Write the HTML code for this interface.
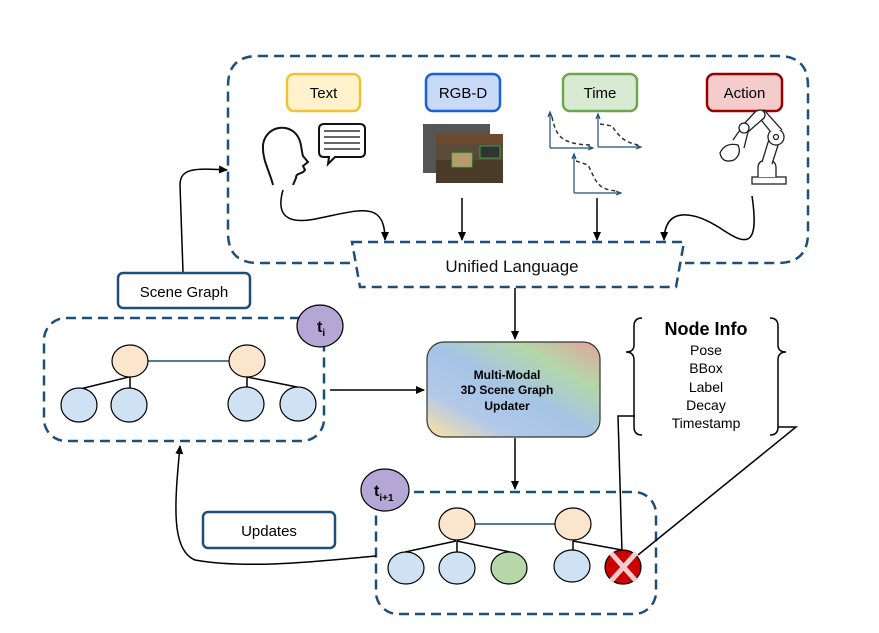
<!DOCTYPE html>
<html><head><meta charset="utf-8"><style>
html,body{margin:0;padding:0;background:#fff;}
svg{display:block;}
text{font-family:"Liberation Sans",Arial,sans-serif;}
</style></head><body>
<svg width="879" height="633" viewBox="0 0 879 633" xmlns="http://www.w3.org/2000/svg">
<defs>
<marker id="ah" markerWidth="10" markerHeight="10" refX="8" refY="5" orient="auto" markerUnits="userSpaceOnUse">
<path d="M0,1 L9,5 L0,9 Z" fill="#000"/></marker>
<linearGradient id="g" x1="0" y1="1" x2="1" y2="0">
<stop offset="0" stop-color="#fbe3a0"/>
<stop offset="0.25" stop-color="#b3c8e8"/>
<stop offset="0.5" stop-color="#a5c4e6"/>
<stop offset="0.75" stop-color="#b4d7a8"/>
<stop offset="1" stop-color="#e3a39b"/>
</linearGradient>
</defs>
<g fill="none" stroke="#1f4e79" stroke-width="2.5" stroke-dasharray="10,6">
<path d="M258,56 H778 Q808,56 808,86 V233 Q808,263 778,263 H685 M350,263 H258 Q228,263 228,233 V86 Q228,56 258,56"/>
<path d="M352,242 L684,242 L676,287 L360,287 Z"/>
<rect x="44" y="318" width="280" height="123" rx="22"/>
<rect x="376" y="492" width="280" height="122" rx="22"/>
</g>
<text x="512" y="272" font-size="17" text-anchor="middle" fill="#111">Unified Language</text>

<rect x="287" y="74" width="73" height="37" rx="7" fill="#fff2cc" stroke="#f1c232" stroke-width="2.5"/>
<text x="323.5" y="98" font-size="15" text-anchor="middle">Text</text>
<rect x="426" y="74" width="74" height="37" rx="7" fill="#c9daf8" stroke="#1c5fd8" stroke-width="2.5"/>
<text x="463" y="98" font-size="15" text-anchor="middle">RGB-D</text>
<rect x="563" y="74" width="74" height="37" rx="7" fill="#d9ead3" stroke="#6aa84f" stroke-width="2.5"/>
<text x="600" y="98" font-size="15" text-anchor="middle">Time</text>
<rect x="707" y="74" width="75" height="37" rx="7" fill="#f4cccc" stroke="#990000" stroke-width="2.5"/>
<text x="744.5" y="98" font-size="15" text-anchor="middle">Action</text>

<!-- head -->
<path d="M273,185 C270,172 262,160 263,145 C265,128 285,122 296,134 C302,141 301,150 303,156 L308,162 L303,166 L305,170 C302,175 296,172 296,178 L293,185" fill="none" stroke="#111" stroke-width="2"/>
<!-- speech bubble -->
<path d="M324,124 H360 Q365,124 365,129 V152 Q365,157 360,157 H335 L328,164 L329,157 H324 Q319,157 319,152 V129 Q319,124 324,124 Z" fill="#fff" stroke="#111" stroke-width="2"/>
<g stroke="#333" stroke-width="1.5"><line x1="324" y1="131" x2="360" y2="131"/><line x1="324" y1="137" x2="360" y2="137"/><line x1="324" y1="143" x2="360" y2="143"/><line x1="324" y1="149" x2="360" y2="149"/></g>
<!-- photo -->
<rect x="423" y="124" width="67" height="49" fill="#555"/>
<rect x="436" y="134" width="67" height="49" fill="#5a4a3a"/>
<rect x="436" y="134" width="67" height="10" fill="#6b4a30"/>
<rect x="436" y="160" width="67" height="23" fill="#4a3a28"/>
<rect x="452" y="153" width="20" height="14" fill="#b89a70" stroke="#3c3" stroke-width="0.7"/>
<rect x="480" y="146" width="20" height="12" fill="#333" stroke="#3c3" stroke-width="0.7"/>
<!-- graphs -->
<g stroke="#1f4e79" stroke-width="1.2" fill="none">
<path d="M550,148 V113 M548,117 L550,112 L552,117"/><path d="M550,148 H592 M588,146 L593,148 L588,150"/>
<path d="M598,147 V115 M596,119 L598,114 L600,119"/><path d="M598,147 H640 M636,145 L641,147 L636,149"/>
<path d="M574,193 V155 M572,159 L574,154 L576,159"/><path d="M574,193 H620 M616,191 L621,193 L616,195"/>
</g>
<g stroke="#333" stroke-width="1.5" fill="none" stroke-dasharray="4,3">
<path d="M552,117 C556,135 560,144 590,145"/>
<path d="M600,124 L612,126 C620,138 625,142 638,145"/>
<path d="M576,161 L588,165 C596,180 596,190 618,191"/>
</g>
<!-- robot arm -->
<g stroke="#222" stroke-width="1.3" fill="#fff">
<rect x="752" y="177" width="34" height="7"/>
<path d="M758,177 V168 Q758,160 767,160 Q776,160 776,168 V177"/>
<path d="M762,162 L770,136 L780,139 L772,164"/>
<circle cx="776" cy="137" r="8"/>
<circle cx="776" cy="137" r="2.5"/>
<path d="M770,131 L758,116 L764,110 L782,130"/>
<circle cx="760" cy="115" r="5"/>
<path d="M756,111 L742,126 L748,132 L764,118"/>
<circle cx="744" cy="128" r="5"/>
<path d="M738,145 Q725,142 720,153 Q722,164 734,160 Q742,154 738,145 Z"/>
<path d="M748,132 L744,148 M740,130 L733,140"/>
</g>

<!-- top arrows -->
<g stroke="#000" stroke-width="1.5" fill="none" marker-end="url(#ah)">
<path d="M283,190 C275,218 290,225 320,218 C360,210 385,200 385,240"/>
<line x1="462" y1="198" x2="462" y2="240"/>
<line x1="597" y1="198" x2="597" y2="240"/>
<path d="M752,196 C760,250 745,245 720,228 C695,212 665,205 664,240"/>
<path d="M183,272 L180,185 C180,168 195,168 227,170"/>
<line x1="515" y1="288" x2="515" y2="339"/>
<line x1="330" y1="390" x2="424" y2="390"/>
<line x1="515" y1="438" x2="515" y2="489"/>
<path d="M376,556 C330,560 250,570 195,560 C170,550 175,500 180,446"/>
</g>

<rect x="118" y="273" width="132" height="35" rx="5" fill="#fff" stroke="#1f4e79" stroke-width="2.5"/>
<text x="184" y="297" font-size="15" text-anchor="middle">Scene Graph</text>
<rect x="203" y="512" width="132" height="36" rx="5" fill="#fff" stroke="#1f4e79" stroke-width="2.5"/>
<text x="269" y="536" font-size="15" text-anchor="middle">Updates</text>

<!-- left graph -->
<g stroke="#000" stroke-width="1.5"><line x1="129" y1="377" x2="80" y2="389"/><line x1="130" y1="377" x2="130" y2="389"/><line x1="247" y1="377" x2="247" y2="389"/><line x1="247" y1="377" x2="297" y2="387"/></g>
<line x1="147" y1="361" x2="230" y2="361" stroke="#1f4e79" stroke-width="1.5"/>
<g stroke="#000" stroke-width="1.2">
<ellipse cx="130" cy="361" rx="18" ry="16" fill="#fce5cd"/><ellipse cx="247" cy="361" rx="18" ry="16" fill="#fce5cd"/>
<ellipse cx="79" cy="405" rx="18" ry="17" fill="#cfe2f3"/><ellipse cx="129" cy="405" rx="18" ry="17" fill="#cfe2f3"/>
<ellipse cx="246" cy="404" rx="18" ry="17" fill="#cfe2f3"/><ellipse cx="298" cy="404" rx="18" ry="17" fill="#cfe2f3"/>
<ellipse cx="320" cy="326" rx="23" ry="21" fill="#b4a7d6"/>
</g>
<text x="317" y="332" font-size="16" font-weight="bold">t<tspan font-size="10" dy="4">i</tspan></text>

<!-- updater -->
<rect x="427" y="342" width="173" height="95" rx="17" fill="url(#g)" stroke="#333" stroke-width="1.2"/>
<g font-size="12" font-weight="bold" text-anchor="middle"><text x="507" y="379">Multi-Modal</text><text x="507" y="394">3D Scene Graph</text><text x="507" y="410">Updater</text></g>

<!-- bottom graph -->
<g stroke="#000" stroke-width="1.5" fill="none"><line x1="456" y1="541" x2="405" y2="552"/><line x1="457" y1="541" x2="457" y2="552"/><line x1="457" y1="541" x2="510" y2="552"/><line x1="573" y1="541" x2="573" y2="550"/><line x1="573" y1="541" x2="622" y2="550"/>
<path d="M622,552 L618,416 L635,416"/><path d="M638,555 L796,427 L778,427"/></g>
<line x1="474" y1="524" x2="555" y2="524" stroke="#1f4e79" stroke-width="1.5"/>
<g stroke="#000" stroke-width="1.2">
<ellipse cx="457" cy="524" rx="18" ry="16" fill="#fce5cd"/><ellipse cx="573" cy="524" rx="18" ry="16" fill="#fce5cd"/>
<ellipse cx="406" cy="568" rx="18" ry="16" fill="#cfe2f3"/><ellipse cx="457" cy="568" rx="18" ry="16" fill="#cfe2f3"/>
<ellipse cx="509" cy="568" rx="18" ry="16" fill="#b6d7a8"/><ellipse cx="572" cy="566" rx="18" ry="16" fill="#cfe2f3"/>
<ellipse cx="623" cy="567" rx="18" ry="17" fill="#cc0000"/>
<ellipse cx="385" cy="490" rx="24" ry="21" fill="#b4a7d6"/>
</g>
<g stroke="#f4cccc" stroke-width="5"><line x1="611" y1="553" x2="636" y2="581"/><line x1="636" y1="553" x2="611" y2="581"/></g>
<text x="374" y="496" font-size="16" font-weight="bold">t<tspan font-size="10" dy="5">i+1</tspan></text>

<!-- node info -->
<g stroke="#000" stroke-width="1.5" fill="none">
<path d="M642,318 Q634,318 634,326 V345 Q634,352 626,352 Q634,352 634,360 V427 Q634,435 642,435"/>
<path d="M770,318 Q778,318 778,326 V345 Q778,352 786,352 Q778,352 778,360 V427 Q778,435 770,435"/>
</g>
<text x="706" y="335" font-size="18" font-weight="bold" text-anchor="middle">Node Info</text>
<g font-size="14" text-anchor="middle"><text x="706" y="355">Pose</text><text x="706" y="373">BBox</text><text x="706" y="392">Label</text><text x="706" y="410">Decay</text><text x="706" y="428">Timestamp</text></g>
</svg>
</body></html>
